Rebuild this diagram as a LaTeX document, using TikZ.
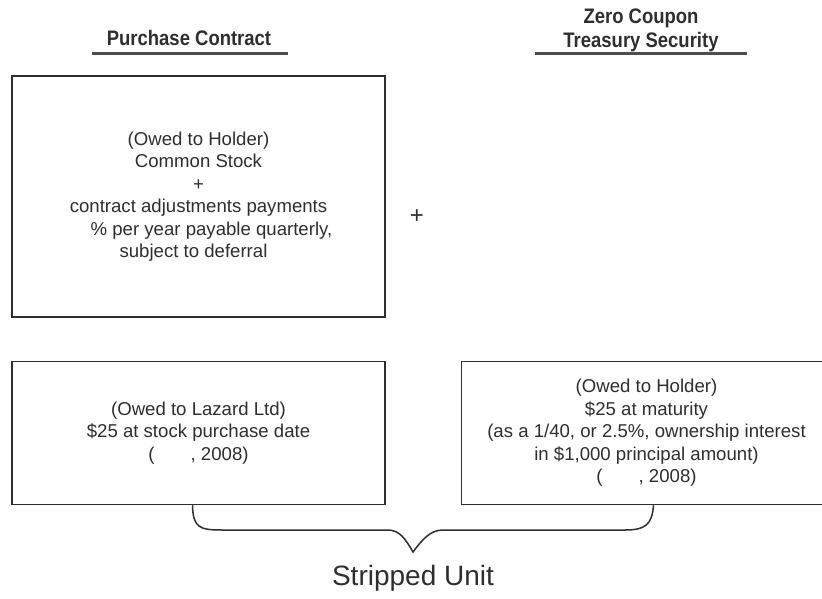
\documentclass[tikz,border=0pt]{standalone}
\usepackage{fontspec}
\setmainfont{Liberation Sans}
\newfontfamily\headfont[FakeStretch=0.88]{Liberation Sans}
\usetikzlibrary{positioning}
\definecolor{ink}{HTML}{2E2E2E}

\begin{document}
\begin{tikzpicture}[
    x=1pt, y=-1pt,
    every node/.style={text=ink, inner sep=0pt},
    box/.style={rectangle,
                draw=ink, line width=1.5pt, align=center,
                font=\fontsize{18.6}{22.5}\selectfont},
    head/.style={align=center, font=\headfont\fontsize{21}{24}\bfseries\selectfont},
    rule/.style={draw=ink!85, line width=3pt},
    brace/.style={draw=ink, line width=1.5pt}]
    \useasboundingbox (0,0) rectangle (822,599);

    % column headings
    \node[head, anchor=base] (pchead) at (189,46) {Purchase Contract};
    \node[head, anchor=north] (zchead) at (641,9) {Zero Coupon\\Treasury Security};
    \draw[rule] (92,54) -- (288,54);
    \draw[rule] (535,54) -- (747,54);

    \node[box, minimum width=373pt, minimum height=241pt] (pcbox) at (198.5,196.5)
      {(Owed to Holder)\\Common Stock\\+\\contract adjustments payments\\
       \hspace*{26pt}\% per year payable quarterly,\\subject to deferral\hspace*{10pt}};

    \node[font=\fontsize{24}{24}\selectfont] (plus) at (417,217) {+};

    \node[box, minimum width=373pt, minimum height=143pt] (lazbox) [below=43pt of pcbox]
      {(Owed to Lazard Ltd)\\\$25 at stock purchase date\\(\hspace{36pt}, 2008)};

    \node[box, minimum width=370pt, minimum height=143pt] (zcbox) [right=75pt of lazbox]
      {(Owed to Holder)\\\$25 at maturity\\(as a 1/40, or 2.5\%, ownership interest\\
       in \$1,000 principal amount)\\(\hspace{36pt}, 2008)};

    % brace under both boxes
    \coordinate (tip) at (413,552);
    \draw[brace] ([xshift=-6pt]lazbox.south)
      .. controls (193,528) and (200,530) .. (222,530) -- (388,530)
      .. controls (400,530) and (406,540) .. (tip)
      .. controls (422,540) and (430,530) .. (443,530) -- (625,530)
      .. controls (645,530) and (652,525) .. ([xshift=7pt]zcbox.south);

    \node[font=\fontsize{28}{30}\selectfont, anchor=north] (unit) [below=13pt of tip] {Stripped Unit};
\end{tikzpicture}
\end{document}
